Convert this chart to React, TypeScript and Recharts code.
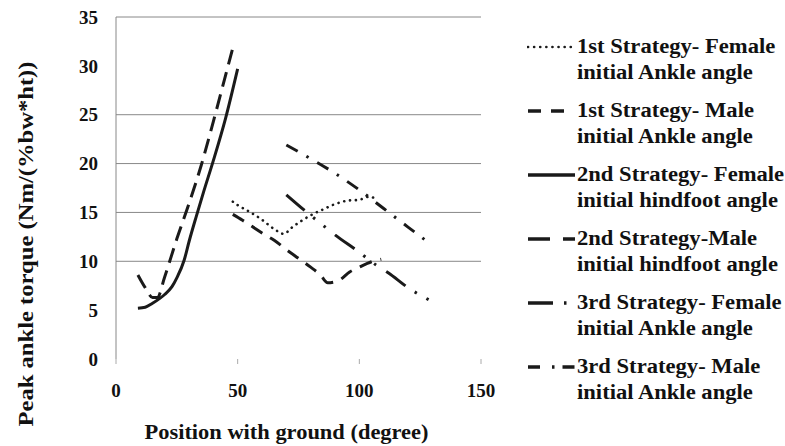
import { CartesianGrid, Line, LineChart, XAxis, YAxis } from "recharts";

const xTicks = [0, 50, 100, 150];
const yTicks = [0, 5, 10, 15, 20, 25, 30, 35];
const gridValues = [10, 15, 20, 25, 35];

// 1st strategy - female, initial ankle angle (dotted)
const s1FemaleX = [48, 50, 55, 60, 65, 69, 72, 76, 80, 85, 90, 95, 100, 104, 107];
const s1FemaleY = [16.1, 15.75, 15.05, 14.25, 13.3, 12.8, 13.4, 14.1, 14.7, 15.3, 15.85, 16.2, 16.3, 16.6, 16.4];

// 1st strategy - male, initial ankle angle (dashed)
const s1MaleX = [9, 12, 15, 17, 20, 25, 30, 35, 40, 45, 48.5];
const s1MaleY = [8.6, 7.3, 6.3, 6.3, 8.4, 12.3, 15.9, 19.8, 24.3, 29.0, 32.3];

// 2nd strategy - female, initial hindfoot angle (solid)
const s2FemaleX = [9, 12, 15, 18, 20, 23, 25, 28, 30, 33, 36, 40, 45, 50];
const s2FemaleY = [5.2, 5.3, 5.7, 6.2, 6.6, 7.4, 8.3, 10.1, 12.0, 14.6, 17.1, 20.3, 24.6, 29.7];

// 2nd strategy - male, initial hindfoot angle
const s2MaleX = [48, 52, 56, 60, 65, 70, 75, 80, 84, 87, 90, 92, 96, 100, 105, 109];
const s2MaleY = [14.8, 14.2, 13.55, 12.9, 12.15, 11.2, 10.3, 9.4, 8.6, 7.8, 7.9, 8.1, 8.9, 9.4, 9.95, 10.2];

// 3rd strategy - female, initial ankle angle
const s3FemaleX = [70, 80, 90, 100, 110, 120, 128];
const s3FemaleY = [21.9, 20.5, 19.0, 17.3, 15.4, 13.5, 12.0];

// 3rd strategy - male, initial ankle angle
const s3MaleX = [70, 78, 86, 90, 99, 107, 112, 120, 129];
const s3MaleY = [16.8, 15.1, 13.5, 12.7, 11.1, 9.6, 8.8, 7.3, 6.0];

const legendLine1 = [
  "1st Strategy- Female",
  "1st Strategy- Male",
  "2nd Strategy- Female",
  "2nd Strategy-Male",
  "3rd Strategy- Female",
  "3rd Strategy- Male",
];
const legendLine2 = [
  "initial Ankle angle",
  "initial Ankle angle",
  "initial hindfoot angle",
  "initial hindfoot angle",
  "initial Ankle angle",
  "initial Ankle angle",
];

const zip = (xs: number[], ys: number[]) => xs.map((x, i) => ({ x, y: ys[i] }));

const INK = "#1a1a1a";
const FONT = '"Liberation Serif"';

const series = [
  { key: "s1f", data: zip(s1FemaleX, s1FemaleY), dash: "0.1 5.8", width: 2.6, cap: "round", legendDash: "0.1 6" },
  { key: "s1m", data: zip(s1MaleX, s1MaleY), dash: "15 8", width: 3, cap: "butt", legendDash: "13 10 13 100" },
  { key: "s2f", data: zip(s2FemaleX, s2FemaleY), dash: undefined, width: 3, cap: "butt", legendDash: undefined },
  { key: "s2m", data: zip(s2MaleX, s2MaleY), dash: "13 9", width: 3, cap: "butt", legendDash: "22 13 13 100" },
  { key: "s3f", data: zip(s3FemaleX, s3FemaleY), dash: "13 10 2.5 10", width: 3, cap: "butt", legendDash: "25 11 2.5 100" },
  { key: "s3m", data: zip(s3MaleX, s3MaleY), dash: "24 11 2.5 11 2.5 12", width: 3, cap: "butt", legendDash: "12 12 2.5 8 12 100" },
];

const tickStyle = { fill: "#111", style: { fontFamily: FONT, fontWeight: 700, fontSize: 19 } };

function XTitle(props: any) {
  const { x, y, width } = props.viewBox;
  return (
    <text
      x={x + width / 2 - 12}
      y={y + 80}
      textAnchor="middle"
      fill="#111"
      style={{ fontFamily: FONT, fontWeight: 700, fontSize: 20 }}
      textLength={284}
      lengthAdjust="spacingAndGlyphs"
    >
      Position with ground (degree)
    </text>
  );
}

function YTitle(props: any) {
  const { x, y, height } = props.viewBox;
  const cx = x - 31;
  const cy = y + height / 2 + 56;
  return (
    <text
      x={cx}
      y={cy}
      transform={`rotate(-90 ${cx} ${cy})`}
      textAnchor="middle"
      dominantBaseline="central"
      fill="#111"
      style={{ fontFamily: FONT, fontWeight: 700, fontSize: 22 }}
      textLength={365}
      lengthAdjust="spacingAndGlyphs"
    >
      Peak ankle torque (Nm/(%bw*ht))
    </text>
  );
}

function ChartLegend() {
  return (
    <div style={{ position: "absolute", left: 527, top: 34, fontFamily: FONT, fontWeight: 700, fontSize: 20, color: "#111" }}>
      {series.map((s, i) => (
        <div key={s.key} style={{ position: "relative", height: 64 }}>
          <svg width={50} height={26} style={{ position: "absolute", left: 0, top: 0 }}>
            <line
              x1={1}
              x2={48}
              y1={13}
              y2={13}
              stroke={INK}
              strokeWidth={s.cap === "round" ? 2.6 : 3.5}
              strokeDasharray={s.legendDash}
              strokeLinecap={s.cap as any}
            />
          </svg>
          <div style={{ position: "absolute", left: 50, top: 0, lineHeight: "25.5px", whiteSpace: "nowrap", transform: "scaleX(1.13)", transformOrigin: "left" }}>
            <div>{legendLine1[i]}</div>
            <div>{legendLine2[i]}</div>
          </div>
        </div>
      ))}
    </div>
  );
}

export default function App() {
  return (
    <div style={{ position: "absolute", left: 0, top: 0, width: 785, height: 446, background: "#fff", overflow: "hidden", fontFamily: FONT }}>
      <LineChart width={785} height={446} margin={{ top: 17, right: 304, bottom: 27, left: 56 }} style={{ fontFamily: FONT }}>
        <CartesianGrid horizontal vertical={false} horizontalValues={gridValues} stroke="#888" />
        <XAxis
          type="number"
          dataKey="x"
          domain={[0, 150]}
          ticks={xTicks}
          height={60}
          axisLine={false}
          tickLine={{ stroke: "#aaa" }}
          tickSize={5}
          tickMargin={20}
          tick={tickStyle}
          label={{ value: "Position with ground (degree)", content: (p: any) => <XTitle {...p} /> }}
        />
        <YAxis
          type="number"
          domain={[0, 35]}
          ticks={yTicks}
          width={60}
          axisLine={{ stroke: "#888" }}
          tickLine={false}
          tickSize={0}
          tickMargin={18}
          tick={tickStyle}
          label={{ value: "Peak ankle torque (Nm/(%bw*ht))", content: (p: any) => <YTitle {...p} /> }}
        />
        {series.map((s) => (
          <Line
            key={s.key}
            data={s.data}
            dataKey="y"
            type="monotone"
            stroke={INK}
            strokeWidth={s.width}
            strokeDasharray={s.dash}
            strokeLinecap={s.cap as any}
            dot={false}
            activeDot={false}
            isAnimationActive={false}
          />
        ))}
      </LineChart>
      <ChartLegend />
    </div>
  );
}
